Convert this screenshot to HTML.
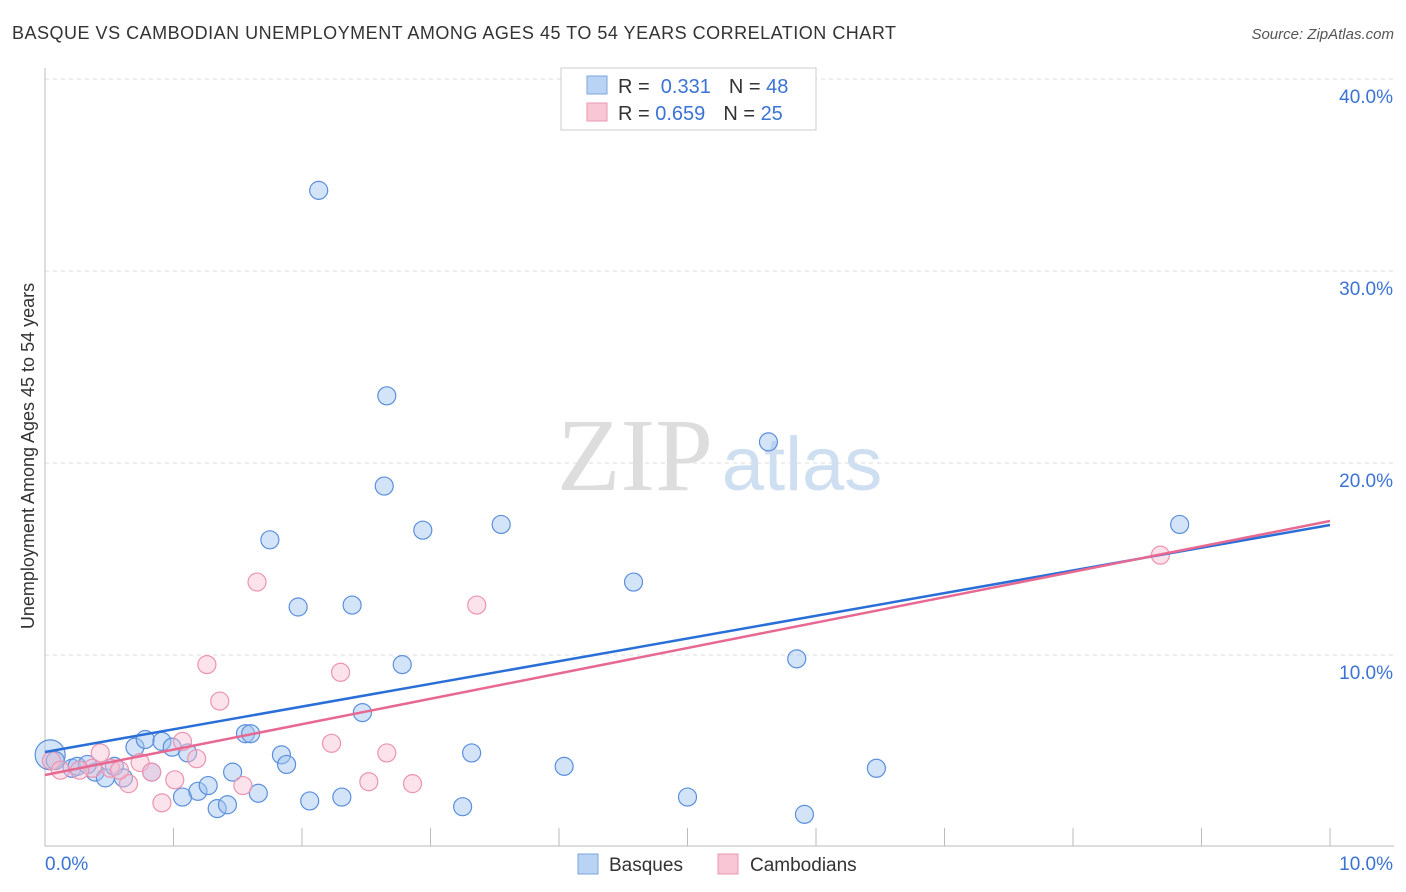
<!DOCTYPE html>
<html><head><meta charset="utf-8">
<style>
body{margin:0;background:#fff;font-family:"Liberation Sans",sans-serif;}
#wrap{position:relative;width:1406px;height:892px;overflow:hidden;}
</style></head>
<body>
<div id="wrap">
<svg id="svg" width="1406" height="892" xmlns="http://www.w3.org/2000/svg">
<text x="12" y="39" font-size="18" fill="#333" textLength="884">BASQUE VS CAMBODIAN UNEMPLOYMENT AMONG AGES 45 TO 54 YEARS CORRELATION CHART</text>
<text x="1394" y="39" font-size="15" fill="#555" text-anchor="end" font-style="italic">Source: ZipAtlas.com</text>
<text x="34" y="456" font-size="18" fill="#333" text-anchor="middle" transform="rotate(-90 34 456)">Unemployment Among Ages 45 to 54 years</text>
<text x="635" y="490" font-size="104" fill="#ddd" font-family="Liberation Serif,serif" text-anchor="middle">ZIP</text>
<text x="802" y="490" font-size="76" fill="#cfdff2" text-anchor="middle">atlas</text>
<g id="grid"></g><g id="axes"></g><g id="pts"></g><g id="lines"></g>
<g>
<rect x="561" y="68" width="255" height="62" fill="#fff" stroke="#ccc"/>
<rect x="587" y="76" width="20" height="18" fill="#b9d3f5" stroke="#7ea6df"/>
<rect x="587" y="103" width="20" height="18" fill="#f8c6d4" stroke="#ea9ab2"/>
<text x="618" y="93" font-size="20" fill="#333">R = <tspan fill="#3a73d4">&#160;0.331</tspan><tspan dx="18">N = </tspan><tspan fill="#3a73d4">48</tspan></text>
<text x="618" y="120" font-size="20" fill="#333">R = <tspan fill="#3a73d4">0.659</tspan><tspan dx="18">N = </tspan><tspan fill="#3a73d4">25</tspan></text>
</g>
<g>
<rect x="578" y="854" width="20" height="20" fill="#b9d3f5" stroke="#7ea6df"/>
<text x="609" y="871" font-size="19" fill="#333">Basques</text>
<rect x="718" y="854" width="20" height="20" fill="#f8c6d4" stroke="#ea9ab2"/>
<text x="750" y="871" font-size="19" fill="#333">Cambodians</text>
</g>
</svg>
</div>
<script>
const xTicks=[0,10];
const yTicks=[10,20,30,40];
const basqueX=[0.04,0.08,0.21,0.25,0.39,0.47,0.33,0.54,0.61,0.70,0.78,0.83,0.91,0.99,1.11,1.07,1.19,1.27,1.34,1.42,1.46,1.56,1.60,1.66,1.84,1.88,2.06,2.31,2.47,2.78,3.32,3.25,4.04,4.58,5.00,5.85,5.91,6.47,5.63,8.83,1.75,1.97,2.39,2.64,2.66,2.94,3.55,2.13];
const basqueY=[4.8,4.5,4.1,4.2,3.9,3.6,4.3,4.2,3.6,5.2,5.6,3.9,5.5,5.2,4.9,2.6,2.9,3.2,2.0,2.2,3.9,5.9,5.9,2.8,4.8,4.3,2.4,2.6,7.0,9.5,4.9,2.1,4.2,13.8,2.6,9.8,1.7,4.1,21.1,16.8,16.0,12.5,12.6,18.8,23.5,16.5,16.8,34.2];
const cambX=[0.05,0.12,0.37,0.43,0.51,0.65,0.74,0.83,0.91,1.01,1.07,1.18,1.36,1.26,1.54,1.65,2.23,2.30,2.52,2.66,2.86,3.36,8.68,0.27,0.58];
const cambY=[4.5,4.0,4.1,4.9,4.1,3.3,4.4,3.9,2.3,3.5,5.5,4.6,7.6,9.5,3.2,13.8,5.4,9.1,3.4,4.9,3.3,12.6,15.2,4.0,4.0];
const basqueTrend=[4.95,16.77];
const cambTrend=[3.75,16.98];
const X=v=>45+v*128.5, Y=v=>847-v*19.2;
const NS="http://www.w3.org/2000/svg";
function mk(p,t,a){const e=document.createElementNS(NS,t);for(const k in a)e.setAttribute(k,a[k]);document.getElementById(p).appendChild(e);return e;}
yTicks.forEach(t=>{
 const l=mk('grid','line',{x1:45,x2:1394,y1:Y(t),y2:Y(t),stroke:'#ddd','stroke-dasharray':'4,4'});
 
 
 const tx=mk('grid','text',{x:1393,y:Y(t)+24,'font-size':19,fill:'#3a73d4','text-anchor':'end'});
 tx.textContent=t.toFixed(1)+'%';
 
 
});
mk('axes','line',{x1:45,x2:45,y1:68,y2:846,stroke:'#bbb'});
mk('axes','line',{x1:45,x2:1394,y1:846,y2:846,stroke:'#bbb'});
for(let i=1;i<=10;i++){mk('axes','line',{x1:X(i),x2:X(i),y1:828,y2:846,stroke:'#bbb'});}
xTicks.forEach((t,i)=>{
 const tx=mk('axes','text',{x:i?1393:45,y:870,'font-size':19,fill:'#3a73d4','text-anchor':i?'end':'start'});
 tx.textContent=t.toFixed(1)+'%';
 
 
});
basqueX.forEach((v,i)=>{
 const c=mk('pts','circle',{cx:X(v),cy:Y(basqueY[i]),r:i==0?15:9,fill:'rgba(160,195,240,0.45)',stroke:'#5b8fdc','stroke-width':1.2});
 
 
});
cambX.forEach((v,i)=>{
 const c=mk('pts','circle',{cx:X(v),cy:Y(cambY[i]),r:9,fill:'rgba(248,190,208,0.45)',stroke:'#ec94b0','stroke-width':1.2});
 
 
});
const bl=mk('lines','line',{x1:X(0),y1:Y(basqueTrend[0]),x2:X(10),y2:Y(basqueTrend[1]),stroke:'#2a6fd8','stroke-width':2.5});


const cl=mk('lines','line',{x1:X(0),y1:Y(cambTrend[0]),x2:X(10),y2:Y(cambTrend[1]),stroke:'#e76890','stroke-width':2.5});


</script>
</body></html>
